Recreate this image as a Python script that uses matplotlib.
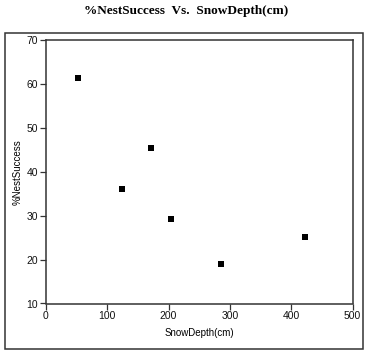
import matplotlib.pyplot as plt
from matplotlib.patches import Rectangle

# values
snow_depth = [52, 125, 171, 204, 286, 423]
nest_success = [61.3, 36.0, 45.3, 29.2, 19.0, 25.1]
x_ticks = [0, 100, 200, 300, 400, 500]
y_ticks = [10, 20, 30, 40, 50, 60, 70]

plt.rcParams['font.family'] = ['Liberation Sans', 'DejaVu Sans']

fig = plt.figure(figsize=(3.72, 3.55), dpi=100)
ax = fig.add_axes([45.7 / 372, 1 - 303.5 / 355, (352.7 - 45.7) / 372, (303.5 - 40) / 355])

# outer frame around the plot area
fig.patches.append(Rectangle((4.7 / 372, 1 - 349 / 355), (362.7 - 4.7) / 372, (349 - 32.7) / 355,
                             transform=fig.transFigure, fill=False, edgecolor='#333333', linewidth=1.1))

ax.scatter(snow_depth, nest_success, marker='s', s=16, color='black', linewidths=0)

ax.set_xlim(0, 500)
ax.set_ylim(10, 70)
ax.set_xticks(x_ticks)
ax.set_yticks(y_ticks)
ax.tick_params(direction='out', length=4, width=0.9, labelsize=7.5, pad=1.5, colors='#333333',
               labelcolor='#111111')
for side in ax.spines.values():
    side.set_color('#333333')
    side.set_linewidth(1.1)

ax.set_xlabel('SnowDepth(cm)', fontsize=7, labelpad=5)
ax.set_ylabel('%NestSuccess', fontsize=7, labelpad=3)

fig.text(0.5, 1 - 11 / 355, '%NestSuccess  Vs.  SnowDepth(cm)', ha='center', va='center',
         fontsize=9.5, fontweight='bold', family='Liberation Serif')

fig.savefig('out.png', dpi=100)
